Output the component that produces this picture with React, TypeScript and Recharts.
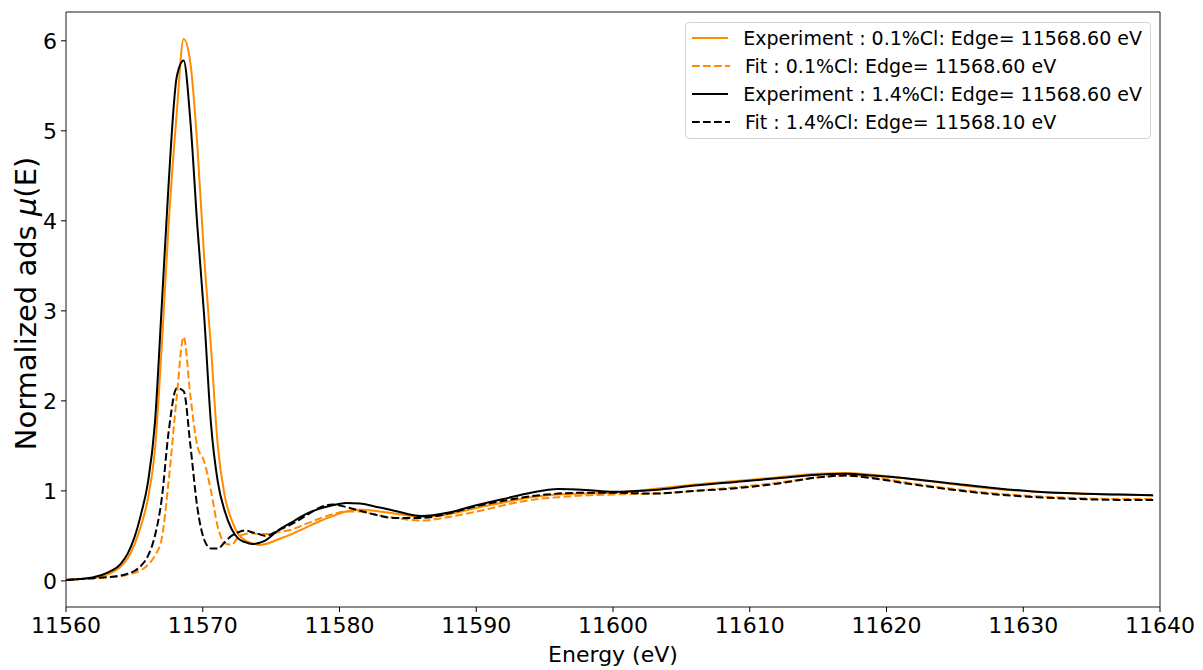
import { LineChart, Line, XAxis, YAxis, Legend, ReferenceArea, Label } from "recharts"

// energies (eV), denser around the edge
const energy = [
  11560, 11561, 11562, 11563, 11564, 11564.5, 11565, 11565.5, 11566, 11566.5, 11567, 11567.5,
  11568.1, 11568.6, 11569.1, 11569.6, 11570.1, 11570.6, 11571.1, 11571.6, 11572.1, 11572.6, 11573.1, 11573.6, 11574.1, 11574.6,
  11575.5, 11576.5, 11577.5, 11578.5, 11579.5, 11580.5, 11581.5, 11582.5,
  11584, 11586, 11588, 11590, 11592, 11594, 11596, 11598, 11600,
  11603, 11606, 11609, 11612,
  11615, 11617, 11619,
  11622, 11625, 11628, 11631, 11634, 11637,
  11639.5,
]

// Experiment 0.1%Cl
const expLow = [
  0.01, 0.02, 0.03, 0.07, 0.16, 0.25, 0.4, 0.62, 0.92, 1.45, 2.6, 3.95,
  5.2, 6.02, 5.75, 4.85, 3.6, 2.6, 1.5, 0.95, 0.68, 0.52, 0.45, 0.42, 0.4, 0.41,
  0.46, 0.52, 0.59, 0.66, 0.72, 0.77, 0.79, 0.78,
  0.75, 0.71, 0.74, 0.81, 0.87, 0.93, 0.96, 0.97, 0.98,
  1.02, 1.07, 1.11, 1.15,
  1.19, 1.2, 1.18,
  1.13, 1.07, 1.02, 0.99, 0.97, 0.96,
  0.95,
]

// Fit 0.1%Cl
const fitLow = [
  0.01, 0.02, 0.03, 0.04, 0.05, 0.07, 0.09, 0.12, 0.18, 0.28, 0.47, 1.1,
  2.05, 2.71, 2.05, 1.5, 1.33, 1.0, 0.6, 0.42, 0.4, 0.49, 0.52, 0.53, 0.52, 0.52,
  0.54, 0.57, 0.63, 0.69, 0.74, 0.77, 0.77, 0.74,
  0.7, 0.67, 0.71, 0.77, 0.84, 0.9, 0.93, 0.95, 0.96,
  0.97, 1.0, 1.04, 1.09,
  1.15, 1.17, 1.15,
  1.08, 1.02, 0.97, 0.94, 0.92, 0.91,
  0.91,
]

// Experiment 1.4%Cl
const expHigh = [
  0.01, 0.02, 0.04, 0.09, 0.19, 0.3, 0.48, 0.75, 1.1, 1.75, 3.05, 4.4,
  5.6, 5.78, 5.1, 3.95, 2.95, 1.75, 1.1, 0.78, 0.58, 0.47, 0.43, 0.41, 0.42, 0.45,
  0.56, 0.65, 0.74, 0.8, 0.84, 0.865, 0.86, 0.83,
  0.78, 0.72, 0.76, 0.84, 0.91, 0.98, 1.02, 1.01, 0.99,
  1.01, 1.06, 1.1, 1.14,
  1.18, 1.19, 1.17,
  1.13, 1.08, 1.03, 0.99, 0.97, 0.96,
  0.95,
]

// Fit 1.4%Cl
const fitHigh = [
  0.01, 0.02, 0.03, 0.04, 0.06, 0.08, 0.11, 0.17, 0.28, 0.5, 0.91, 1.65,
  2.14, 2.11, 1.5, 0.82, 0.46, 0.36, 0.36, 0.43, 0.5, 0.54, 0.56, 0.54, 0.52, 0.5,
  0.56, 0.63, 0.72, 0.81, 0.85, 0.82, 0.78, 0.74,
  0.7, 0.7, 0.75, 0.83, 0.89, 0.94, 0.97, 0.98, 0.98,
  0.97, 1.0, 1.03, 1.08,
  1.15, 1.17, 1.14,
  1.07, 1.01, 0.96, 0.93, 0.91, 0.9,
  0.9,
]

const xTicks = [11560, 11570, 11580, 11590, 11600, 11610, 11620, 11630, 11640]
const yTicks = [0, 1, 2, 3, 4, 5, 6]

const ORANGE = "#ff8c00"
const BLACK = "#000000"

const series = [
  { key: "expLow", name: "Experiment : 0.1%Cl: Edge= 11568.60 eV", color: ORANGE, dashed: false },
  { key: "fitLow", name: "Fit : 0.1%Cl: Edge= 11568.60 eV", color: ORANGE, dashed: true },
  { key: "expHigh", name: "Experiment : 1.4%Cl: Edge= 11568.60 eV", color: BLACK, dashed: false },
  { key: "fitHigh", name: "Fit : 1.4%Cl: Edge= 11568.10 eV", color: BLACK, dashed: true },
]

const data = energy.map((e, i) => ({
  energy: e,
  expLow: expLow[i],
  fitLow: fitLow[i],
  expHigh: expHigh[i],
  fitHigh: fitHigh[i],
}))

const DASH = "7.7 3.3"

function YTitle(props: any) {
  const vb = props.viewBox
  const cx = 26
  const cy = vb.y + vb.height / 2 - 6
  return (
    <text x={cx} y={cy} transform={`rotate(-90, ${cx}, ${cy})`} textAnchor="middle" dominantBaseline="central" fontSize={29} fill="#000">
      Normalized ads <tspan fontStyle="italic">μ</tspan>(E)
    </text>
  )
}

function XTitle(props: any) {
  const vb = props.viewBox
  return (
    <text x={vb.x + vb.width / 2} y={662} textAnchor="middle" fontSize={22} fill="#000">
      Energy (eV)
    </text>
  )
}

function LegendBox() {
  return (
    <div
      style={{
        border: "1px solid #d4d4d4",
        borderRadius: 4,
        background: "rgba(255,255,255,0.8)",
        padding: "1px 8px 2px 6px",
        fontSize: 19,
        lineHeight: "28px",
        color: "#000",
      }}
    >
      {series.map((s) => (
        <div key={s.key} style={{ display: "flex", alignItems: "center", whiteSpace: "nowrap" }}>
          <svg width={38} height={10} style={{ marginRight: 15 }}>
            <line x1={0} y1={5} x2={38} y2={5} stroke={s.color} strokeWidth={2} strokeDasharray={s.dashed ? DASH : undefined} />
          </svg>
          <span>{s.name}</span>
        </div>
      ))}
    </div>
  )
}

export default function App() {
  return (
    <div style={{ position: "absolute", left: 0, top: 0, fontFamily: "'DejaVu Sans', sans-serif", background: "#fff" }}>
      <LineChart width={1203} height={670} data={data} margin={{ top: 12, right: 43, left: 0, bottom: 0 }}>
        <XAxis
          type="number"
          dataKey="energy"
          domain={[11560, 11640]}
          ticks={xTicks}
          allowDataOverflow
          height={63}
          tickSize={5}
          tickMargin={5}
          tick={{ fontSize: 22, fill: "#000" }}
          tickLine={{ stroke: "#000" }}
          axisLine={false}
        >
          <Label content={<XTitle />} />
        </XAxis>
        <YAxis
          type="number"
          domain={[-0.29, 6.32]}
          ticks={yTicks}
          allowDataOverflow
          width={66}
          tickSize={5}
          tickMargin={4}
          tick={{ fontSize: 22, fill: "#000" }}
          tickLine={{ stroke: "#000" }}
          axisLine={false}
        >
          <Label content={<YTitle />} />
        </YAxis>
        <ReferenceArea x1={11560} x2={11640} y1={-0.29} y2={6.32} fill="none" stroke="#1a1a1a" strokeWidth={1} />
        {series.map((s) => (
          <Line
            key={s.key}
            type="monotone"
            dataKey={s.key}
            name={s.name}
            stroke={s.color}
            strokeWidth={2}
            strokeDasharray={s.dashed ? DASH : undefined}
            dot={false}
            activeDot={false}
            isAnimationActive={false}
          />
        ))}
        <Legend
          layout="horizontal"
          verticalAlign="middle"
          align="center"
          content={<LegendBox />}
          wrapperStyle={{ left: 685, top: 22, width: 466, height: "auto" }}
        />
      </LineChart>
    </div>
  )
}
